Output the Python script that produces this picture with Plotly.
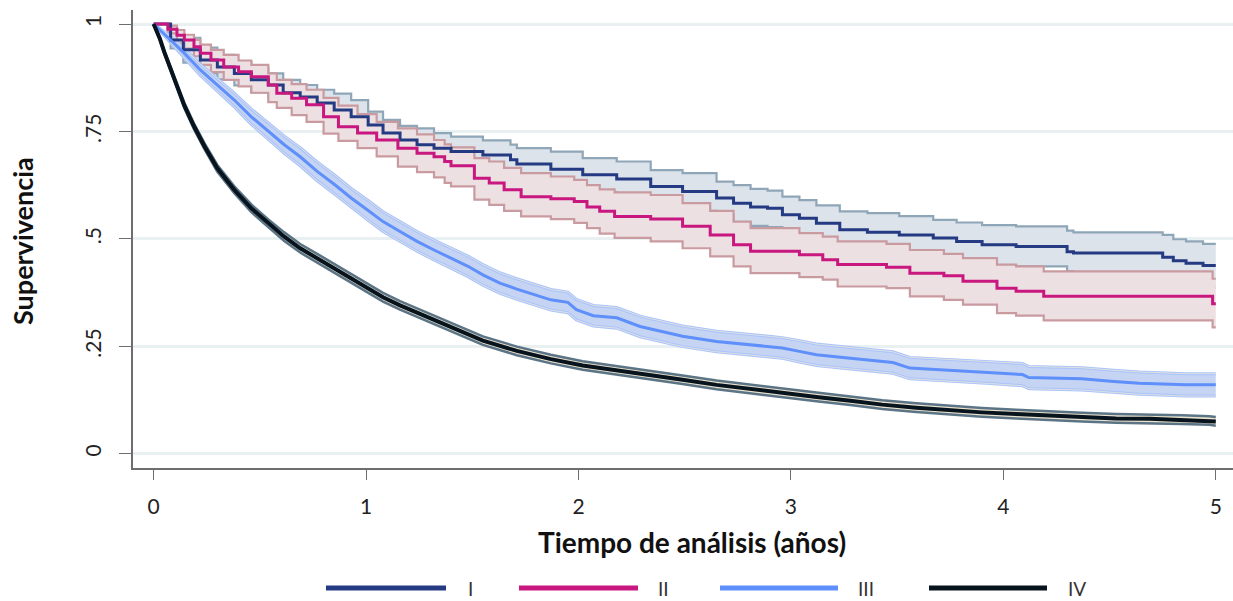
import plotly.graph_objects as go

# ---------------- data ----------------
stages = ["I", "II", "III", "IV"]

t_I = [0, 0.08, 0.14, 0.22, 0.30, 0.38, 0.46, 0.54, 0.61, 0.69,
       0.77, 0.85, 0.93, 1.01, 1.08, 1.16, 1.24, 1.32, 1.40, 1.55,
       1.68, 1.71, 1.87, 2.02, 2.18, 2.34, 2.49, 2.65, 2.73, 2.81,
       2.89, 2.96, 3.04, 3.12, 3.23, 3.36, 3.51, 3.67, 3.78, 3.90,
       4.06, 4.30, 4.33, 4.75, 4.80, 4.86, 4.94, 5.00]
s_I = [1.0, 0.963, 0.940, 0.916, 0.900, 0.885, 0.870, 0.858, 0.840, 0.830,
       0.816, 0.800, 0.784, 0.765, 0.746, 0.730, 0.719, 0.711, 0.703, 0.695,
       0.684, 0.674, 0.662, 0.649, 0.639, 0.622, 0.610, 0.595, 0.583, 0.574,
       0.571, 0.556, 0.548, 0.536, 0.521, 0.515, 0.509, 0.502, 0.494, 0.486,
       0.482, 0.470, 0.467, 0.457, 0.449, 0.443, 0.438, 0.438]
hi_I = [1.0, 0.982, 0.968, 0.945, 0.928, 0.912, 0.898, 0.885, 0.870, 0.858,
        0.847, 0.838, 0.823, 0.796, 0.777, 0.763, 0.757, 0.746, 0.738, 0.729,
        0.719, 0.711, 0.703, 0.688, 0.680, 0.660, 0.653, 0.633, 0.625, 0.616,
        0.612, 0.598, 0.590, 0.578, 0.564, 0.560, 0.553, 0.544, 0.538, 0.532,
        0.529, 0.519, 0.515, 0.509, 0.499, 0.494, 0.488, 0.488]
lo_I = [1.0, 0.943, 0.910, 0.885, 0.871, 0.857, 0.841, 0.830, 0.809, 0.801,
        0.783, 0.763, 0.746, 0.732, 0.713, 0.695, 0.679, 0.674, 0.666, 0.659,
        0.647, 0.635, 0.619, 0.608, 0.596, 0.582, 0.565, 0.555, 0.539, 0.530,
        0.527, 0.512, 0.504, 0.492, 0.476, 0.468, 0.463, 0.458, 0.448, 0.438,
        0.436, 0.424, 0.417, 0.404, 0.397, 0.390, 0.386, 0.386]

t_II = [0, 0.067, 0.11, 0.145, 0.19, 0.22, 0.27, 0.33, 0.40, 0.46,
        0.54, 0.58, 0.65, 0.72, 0.80, 0.87, 0.96, 1.05, 1.15, 1.24,
        1.32, 1.37, 1.40, 1.51, 1.58, 1.65, 1.73, 1.87, 1.98, 2.04,
        2.10, 2.17, 2.34, 2.49, 2.62, 2.73, 2.81, 3.04, 3.15, 3.22,
        3.45, 3.56, 3.72, 3.81, 3.97, 4.06, 4.19, 4.985, 5.0]
s_II = [1.0, 0.988, 0.974, 0.963, 0.947, 0.932, 0.916, 0.900, 0.889, 0.877,
        0.858, 0.839, 0.827, 0.812, 0.784, 0.761, 0.746, 0.730, 0.711, 0.699,
        0.691, 0.680, 0.670, 0.641, 0.630, 0.614, 0.598, 0.593, 0.587, 0.574,
        0.564, 0.552, 0.546, 0.529, 0.509, 0.486, 0.471, 0.463, 0.451, 0.440,
        0.434, 0.420, 0.414, 0.401, 0.385, 0.378, 0.366, 0.349, 0.349]
hi_II = [1.0, 0.996, 0.986, 0.975, 0.963, 0.952, 0.940, 0.928, 0.915, 0.905,
         0.885, 0.870, 0.860, 0.847, 0.828, 0.810, 0.790, 0.772, 0.757, 0.743,
         0.730, 0.720, 0.713, 0.688, 0.680, 0.665, 0.653, 0.645, 0.637, 0.625,
         0.615, 0.608, 0.602, 0.583, 0.565, 0.540, 0.525, 0.513, 0.505, 0.494,
         0.488, 0.474, 0.465, 0.455, 0.440, 0.436, 0.424, 0.407, 0.407]
lo_II = [1.0, 0.978, 0.955, 0.943, 0.925, 0.905, 0.888, 0.870, 0.855, 0.840,
         0.818, 0.805, 0.788, 0.772, 0.745, 0.728, 0.711, 0.692, 0.668, 0.655,
         0.643, 0.630, 0.622, 0.591, 0.579, 0.565, 0.552, 0.546, 0.537, 0.525,
         0.512, 0.502, 0.494, 0.478, 0.459, 0.436, 0.420, 0.411, 0.405, 0.389,
         0.385, 0.366, 0.358, 0.347, 0.327, 0.321, 0.310, 0.294, 0.294]

t_III = [0, 0.08, 0.145, 0.22, 0.30, 0.38, 0.46, 0.54, 0.615, 0.69,
         0.77, 0.85, 0.93, 1.01, 1.08, 1.16, 1.24, 1.32, 1.40, 1.48,
         1.55, 1.63, 1.71, 1.79, 1.87, 1.95, 1.99, 2.07, 2.18, 2.29,
         2.42, 2.49, 2.65, 2.81, 2.96, 3.04, 3.12, 3.28, 3.48, 3.56,
         3.75, 3.94, 4.09, 4.12, 4.37, 4.52, 4.64, 4.86, 5.0]
s_III = [1.0, 0.963, 0.932, 0.893, 0.858, 0.823, 0.784, 0.750, 0.719, 0.691,
         0.657, 0.627, 0.595, 0.566, 0.540, 0.517, 0.494, 0.474, 0.455, 0.436,
         0.416, 0.397, 0.383, 0.370, 0.358, 0.352, 0.335, 0.321, 0.316, 0.296,
         0.281, 0.273, 0.261, 0.253, 0.246, 0.238, 0.230, 0.222, 0.212, 0.199,
         0.194, 0.188, 0.184, 0.177, 0.174, 0.168, 0.164, 0.160, 0.160]
hi_III = [1.0, 0.971, 0.943, 0.906, 0.873, 0.839, 0.802, 0.769, 0.739, 0.712,
          0.679, 0.649, 0.617, 0.589, 0.563, 0.540, 0.517, 0.497, 0.478, 0.460,
          0.440, 0.421, 0.407, 0.394, 0.382, 0.376, 0.359, 0.345, 0.340, 0.320,
          0.305, 0.297, 0.285, 0.277, 0.270, 0.263, 0.255, 0.247, 0.237, 0.224,
          0.219, 0.213, 0.210, 0.203, 0.200, 0.194, 0.190, 0.186, 0.186]
lo_III = [1.0, 0.955, 0.921, 0.880, 0.843, 0.807, 0.766, 0.731, 0.699, 0.670,
          0.635, 0.605, 0.573, 0.543, 0.517, 0.494, 0.471, 0.451, 0.432, 0.412,
          0.392, 0.373, 0.359, 0.346, 0.334, 0.328, 0.311, 0.297, 0.292, 0.272,
          0.257, 0.249, 0.237, 0.229, 0.222, 0.213, 0.205, 0.197, 0.187, 0.174,
          0.169, 0.163, 0.158, 0.151, 0.148, 0.142, 0.138, 0.134, 0.134]

t_IV = [0, 0.03, 0.05, 0.08, 0.11, 0.145, 0.19, 0.24, 0.30, 0.38, 0.46,
        0.54, 0.615, 0.69, 0.77, 0.85, 0.93, 1.01, 1.08, 1.16, 1.24,
        1.32, 1.40, 1.55, 1.71, 1.87, 2.02, 2.18, 2.34, 2.49, 2.65,
        2.81, 2.96, 3.12, 3.28, 3.43, 3.59, 3.75, 3.90, 4.06, 4.22,
        4.37, 4.53, 4.69, 4.84, 4.97, 5.0]
s_IV = [1.0, 0.965, 0.935, 0.895, 0.854, 0.810, 0.762, 0.715, 0.664, 0.614, 0.571,
        0.536, 0.505, 0.478, 0.455, 0.432, 0.409, 0.386, 0.364, 0.345, 0.328,
        0.312, 0.295, 0.263, 0.239, 0.220, 0.205, 0.194, 0.184, 0.172, 0.160,
        0.150, 0.141, 0.132, 0.123, 0.114, 0.107, 0.101, 0.096, 0.092, 0.088,
        0.085, 0.082, 0.081, 0.079, 0.077, 0.075]
hi_IV = [1.0, 0.968, 0.939, 0.900, 0.860, 0.816, 0.769, 0.722, 0.672, 0.622, 0.580,
         0.545, 0.515, 0.488, 0.465, 0.442, 0.419, 0.396, 0.374, 0.355, 0.338,
         0.322, 0.305, 0.273, 0.249, 0.230, 0.215, 0.204, 0.194, 0.182, 0.170,
         0.160, 0.151, 0.142, 0.133, 0.124, 0.117, 0.111, 0.106, 0.102, 0.098,
         0.095, 0.092, 0.091, 0.089, 0.087, 0.085]
lo_IV = [1.0, 0.962, 0.931, 0.890, 0.848, 0.804, 0.755, 0.708, 0.656, 0.606, 0.562,
         0.527, 0.495, 0.468, 0.445, 0.422, 0.399, 0.376, 0.354, 0.335, 0.318,
         0.302, 0.285, 0.253, 0.229, 0.210, 0.195, 0.184, 0.174, 0.162, 0.150,
         0.140, 0.131, 0.122, 0.113, 0.104, 0.097, 0.091, 0.086, 0.082, 0.078,
         0.075, 0.072, 0.071, 0.069, 0.067, 0.065]

x_ticks = [0, 1, 2, 3, 4, 5]
y_ticks = [0, 0.25, 0.5, 0.75, 1]
y_ticktext = ["0", ".25", ".5", ".75", "1"]

# ---------------- styles ----------------
series = [
    dict(name="I", t=t_I, s=s_I, hi=hi_I, lo=lo_I, shape="hv",
         line="#243a82", lw=3, fill="#dde3ea", edge="#8fa6b8", ew=2.2, inner=None),
    dict(name="II", t=t_II, s=s_II, hi=hi_II, lo=lo_II, shape="hv",
         line="#c8177f", lw=3, fill="#ede0e2", edge="#c99aa0", ew=2.2, inner=None),
    dict(name="III", t=t_III, s=s_III, hi=hi_III, lo=lo_III, shape="linear",
         line="#5e8ffa", lw=3, fill="#c6d4f4", edge="#a9c3fd", ew=3, inner="#ece9d6"),
    dict(name="IV", t=t_IV, s=s_IV, hi=hi_IV, lo=lo_IV, shape="linear",
         line="#07131d", lw=4, fill="#ebe3cf", edge="#5b7486", ew=2.5, inner=None),
]

fig = go.Figure()

for sr in series:
    fig.add_trace(go.Scatter(x=sr["t"], y=sr["lo"], mode="lines",
                             line=dict(width=0, shape=sr["shape"]),
                             hoverinfo="skip", showlegend=False))
    fig.add_trace(go.Scatter(x=sr["t"], y=sr["hi"], mode="lines",
                             line=dict(width=0, shape=sr["shape"]),
                             fill="tonexty", fillcolor=sr["fill"],
                             hoverinfo="skip", showlegend=False))
    for b in ("hi", "lo"):
        fig.add_trace(go.Scatter(x=sr["t"], y=sr[b], mode="lines",
                                 line=dict(width=sr["ew"], color=sr["edge"], shape=sr["shape"]),
                                 hoverinfo="skip", showlegend=False))
        if sr["inner"]:
            fig.add_trace(go.Scatter(x=sr["t"], y=sr[b], mode="lines",
                                     line=dict(width=0.8, color=sr["inner"], shape=sr["shape"]),
                                     hoverinfo="skip", showlegend=False))

for sr in series:
    fig.add_trace(go.Scatter(x=sr["t"], y=sr["s"], mode="lines", name=sr["name"],
                             line=dict(width=sr["lw"], color=sr["line"], shape=sr["shape"]),
                             showlegend=False))

FONT = "Lato"
W, H = 1233, 601
L, R, T, B = 133, 0, 10, 133
pw, ph = W - L - R, H - T - B


def px_x(px):
    return (px - L) / pw


def px_y(py):
    return (H - B - py) / ph


# manual legend (long line samples like the original)
leg_y = px_y(588)
leg_items = [(326, 446, 466), (519, 638, 656), (720, 838, 856), (929, 1047, 1066)]
for sr, (x0, x1, xt) in zip(series, leg_items):
    fig.add_shape(type="line", xref="paper", yref="paper",
                  x0=px_x(x0), x1=px_x(x1), y0=leg_y, y1=leg_y,
                  line=dict(color=sr["line"], width=5))
    fig.add_annotation(xref="paper", yref="paper", x=px_x(xt), y=leg_y,
                       text=sr["name"], showarrow=False, xanchor="left", yanchor="middle",
                       font=dict(family=FONT, size=19, color="#333333"))

fig.add_annotation(xref="paper", yref="paper", x=px_x(692), y=px_y(542),
                   text="<b>Tiempo de análisis (años)</b>", showarrow=False,
                   xanchor="center", yanchor="middle",
                   font=dict(family=FONT, size=28, color="#111111"))
fig.add_annotation(xref="paper", yref="paper", x=px_x(22), y=px_y(241),
                   text="<b>Supervivencia</b>", showarrow=False, textangle=-90,
                   xanchor="center", yanchor="middle",
                   font=dict(family=FONT, size=27, color="#111111"))

fig.update_layout(
    width=W, height=H,
    margin=dict(l=L, r=R, t=T, b=B),
    paper_bgcolor="white", plot_bgcolor="white",
    showlegend=False,
    font=dict(family=FONT, size=18, color="#222222"),
    xaxis=dict(range=[-0.097, 5.081], tickvals=x_ticks, ticktext=[str(v) for v in x_ticks],
               showgrid=False, zeroline=False, showline=True, linecolor="#6e6e6e", linewidth=1.5,
               ticks="outside", ticklen=10, tickcolor="#6e6e6e", tickwidth=1.2,
               ticklabelstandoff=9, tickfont=dict(family=FONT, size=21, color="#222222")),
    yaxis=dict(range=[-0.0335, 1.0326], tickvals=y_ticks, ticktext=y_ticktext, tickangle=-90,
               showgrid=True, gridcolor="#e8f0f2", gridwidth=2.5, zeroline=False,
               showline=True, linecolor="#6e6e6e", linewidth=1.5,
               ticks="outside", ticklen=12, tickcolor="#6e6e6e", tickwidth=1.2,
               ticklabelstandoff=10, tickfont=dict(family=FONT, size=21, color="#222222")),
)

fig.write_html("out.html")
